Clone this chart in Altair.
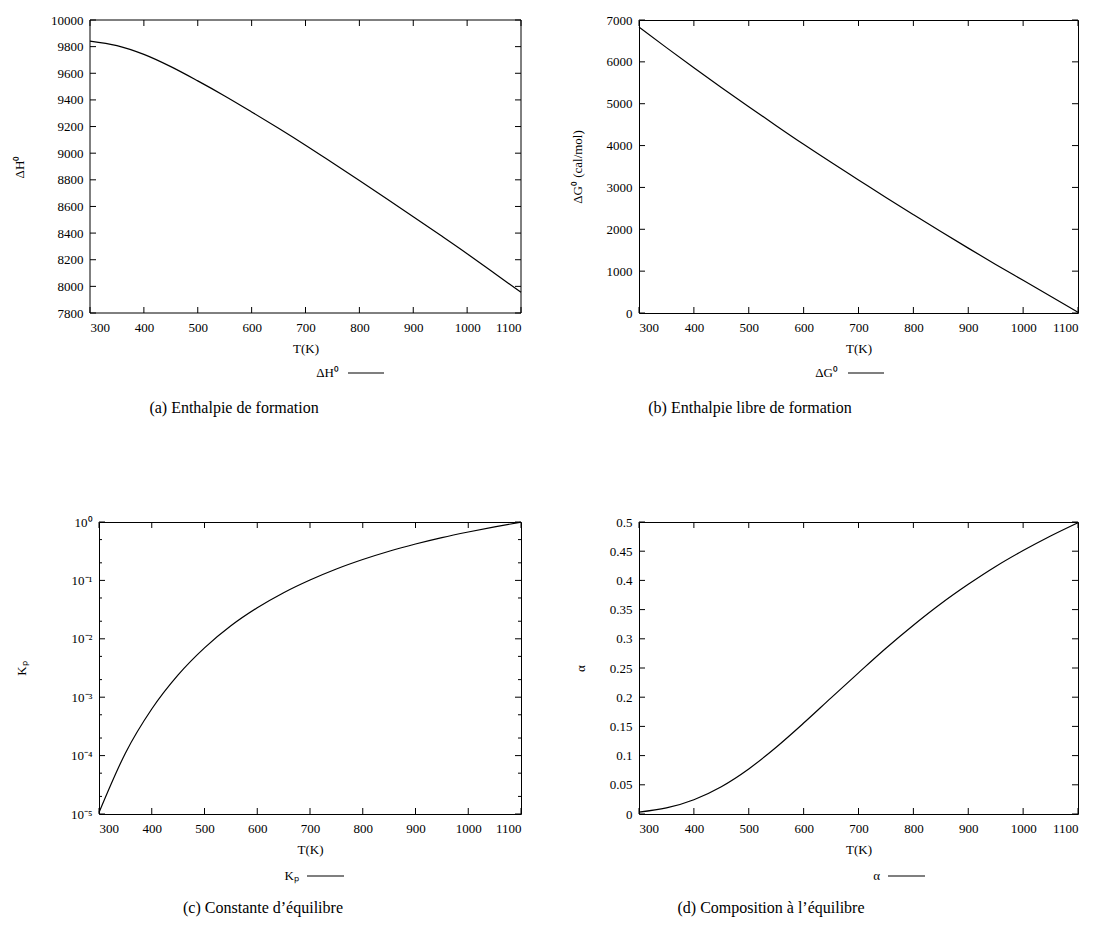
import altair as alt
import pandas as pd

# ---------------- data ----------------
T = [300, 350, 400, 450, 500, 550, 600, 650, 700, 750, 800, 850, 900, 950, 1000, 1050, 1100]
dH = [9842, 9808, 9742, 9650, 9543, 9430, 9310, 9187, 9060, 8928, 8795, 8660, 8523, 8385, 8245, 8100, 7955]
dG = [6830, 6340, 5860, 5390, 4930, 4475, 4030, 3600, 3180, 2760, 2350, 1945, 1550, 1160, 780, 400, 20]
Kp = [1.06e-5, 1.10e-4, 6.28e-4, 2.41e-3, 7.00e-3, 1.67e-2, 3.40e-2, 6.16e-2, 0.1016, 0.157,
      0.228, 0.316, 0.420, 0.541, 0.675, 0.826, 0.991]
alpha = [0.00325, 0.0104, 0.0245, 0.0468, 0.0772, 0.1144, 0.1557, 0.1989, 0.2417, 0.2838,
         0.3232, 0.3599, 0.3932, 0.4238, 0.4511, 0.4761, 0.4989]

x_ticks = [300, 400, 500, 600, 700, 800, 900, 1000, 1100]
yticks_a = [7800, 8000, 8200, 8400, 8600, 8800, 9000, 9200, 9400, 9600, 9800, 10000]
yticks_b = [0, 1000, 2000, 3000, 4000, 5000, 6000, 7000]
yticks_c = [1e-5, 1e-4, 1e-3, 1e-2, 1e-1, 1]
ylabels_c = ["10⁻⁵", "10⁻⁴", "10⁻³", "10⁻²", "10⁻¹", "10⁰"]
yminor_c = [2e-5, 5e-5, 2e-4, 5e-4, 2e-3, 5e-3, 2e-2, 5e-2, 2e-1, 5e-1]
yticks_d = [0, 0.05, 0.1, 0.15, 0.2, 0.25, 0.3, 0.35, 0.4, 0.45, 0.5]

FONT = "Liberation Serif"
CAP_FONT = "Liberation Serif"

df = pd.DataFrame({"T": T, "dH": dH, "dG": dG, "Kp": Kp, "alpha": alpha})


def one_row():
    return alt.Data(values=[{"k": 0}])


def panel(field, W, H, ydom, yticks, ytitle, ytitle_x, legend_txt, leg, caption, cap,
          left_ext, ytype="linear", yfmt=None, ylabel_expr=None, yminor=None, x0=0):
    xs = alt.Scale(domain=[300, 1100], nice=False, zero=False, range=[x0, W])
    ys = alt.Scale(domain=ydom, nice=False, zero=False, type=ytype)
    yaxis_kw = dict(values=yticks, title=ytitle, ticks=False, domain=False, grid=False,
                    labelPadding=7, titleX=ytitle_x, titleAlign="center", tickCount=60,
                    titleBaseline="middle", titleAngle=-90, labelOverlap=False)
    if x0:
        yaxis_kw["offset"] = -x0
    if yfmt:
        yaxis_kw["format"] = yfmt
    if ylabel_expr:
        yaxis_kw["labelExpr"] = ylabel_expr
    xaxis = alt.Axis(values=x_ticks, title="T(K)", ticks=False, domain=False,
                     grid=False, labelPadding=8, titleY=35, titleBaseline="middle",
                     tickCount=60, format="d")
    yaxis = alt.Axis(**yaxis_kw)
    X = lambda: alt.X("T:Q", scale=xs, axis=xaxis)
    Y = lambda: alt.Y(f"{field}:Q", scale=ys, axis=yaxis)

    line = alt.Chart(df).mark_line(color="black", strokeWidth=1.2,
                                   interpolate="monotone").encode(x=X(), y=Y())
    xdat = pd.DataFrame({"T": x_ticks})
    ydat = pd.DataFrame({field: yticks})
    tl = 6
    layers = [line]
    base_x = alt.Chart(xdat).mark_rule(color="black", strokeWidth=1)
    layers.append(base_x.encode(x=X(), y=alt.value(H), y2=alt.value(H - tl)))
    layers.append(base_x.encode(x=X(), y=alt.value(0), y2=alt.value(tl)))
    base_y = alt.Chart(ydat).mark_rule(color="black", strokeWidth=1)
    layers.append(base_y.encode(y=Y(), x=alt.value(x0), x2=alt.value(x0 + tl)))
    layers.append(base_y.encode(y=Y(), x=alt.value(W - tl), x2=alt.value(W)))
    if yminor:
        mdat = pd.DataFrame({field: yminor})
        base_m = alt.Chart(mdat).mark_rule(color="black", strokeWidth=1)
        layers.append(base_m.encode(y=Y(), x=alt.value(x0), x2=alt.value(x0 + 3)))
        layers.append(base_m.encode(y=Y(), x=alt.value(W - 3), x2=alt.value(W)))
    if x0:
        # frame drawn explicitly when the plot extends left of the group origin
        fr = alt.Chart(one_row()).mark_rule(color="black", strokeWidth=1)
        layers.append(fr.encode(x=alt.value(x0), x2=alt.value(W), y=alt.value(0)))
        layers.append(fr.encode(x=alt.value(x0), x2=alt.value(W), y=alt.value(H)))
        layers.append(fr.encode(x=alt.value(x0), y=alt.value(0), y2=alt.value(H)))
        layers.append(fr.encode(x=alt.value(W), y=alt.value(0), y2=alt.value(H)))
    # legend key
    layers.append(alt.Chart(one_row()).mark_text(font=FONT, fontSize=13, align="right",
                                                 baseline="middle", color="black").encode(
        x=alt.value(leg[0]), y=alt.value(leg[3]), text=alt.value(legend_txt)))
    layers.append(alt.Chart(one_row()).mark_rule(color="black", strokeWidth=1.2).encode(
        x=alt.value(leg[1]), x2=alt.value(leg[2]), y=alt.value(leg[3])))
    # caption
    layers.append(alt.Chart(one_row()).mark_text(font=CAP_FONT, fontSize=16, align="center",
                                                 baseline="middle", color="black").encode(
        x=alt.value(cap[0]), y=alt.value(cap[1]), text=alt.value(caption)))
    # invisible spacer fixing the left extent of the panel
    layers.append(alt.Chart(one_row()).mark_rule(strokeOpacity=0, strokeWidth=0.1).encode(
        x=alt.value(-left_ext), y=alt.value(H / 2), y2=alt.value(H / 2 + 1)))
    ch = alt.layer(*layers).properties(width=W, height=H)
    if x0:
        ch = ch.properties(view=alt.ViewBackground(stroke="transparent"))
    return ch


expr_c = ""
for v, lab in zip(yticks_c, ylabels_c):
    expr_c += f"datum.value < {v * 3} ? '{lab}' : "
expr_c += "''"

pa = panel("dH", 422, 293, [7800, 10000], yticks_a, "ΔH⁰", -71, "ΔH⁰",
           (240, 249, 285, 353), "(a) Enthalpie de formation", (135, 388), 90, yfmt="d",
           x0=-9)
pb = panel("dG", 439, 293, [0, 7000], yticks_b, "ΔG⁰ (cal/mol)", -62, "ΔG⁰",
           (199, 209, 245, 353), "(b) Enthalpie libre de formation", (111, 388), 75, yfmt="d")
pc = panel("Kp", 422, 292, [1e-5, 1], yticks_c, "Kₚ", -78, "Kₚ",
           (200, 208, 245, 354), "(c) Constante d’équilibre", (164, 386), 96,
           ytype="log", ylabel_expr=expr_c, yminor=yminor_c)
pd_ = panel("alpha", 439, 292, [0, 0.5], yticks_d, "α", -59, "α",
            (241, 249, 286, 354), "(d) Composition à l’équilibre", (132, 386), 75,
            yfmt="~g")

chart = alt.concat(
    pa, pb, pc, pd_,
    columns=2,
    spacing={"row": 98, "column": 32},
    align="none",
).properties(
    padding={"left": 2, "top": 13, "right": 5, "bottom": 5},
    background="white",
).configure_view(
    stroke="black", strokeWidth=1
).configure_axis(
    labelFont=FONT, labelFontSize=13, labelColor="black",
    titleFont=FONT, titleFontSize=13, titleFontWeight="normal", titleColor="black",
)

chart.save("out.html", embed_options={"renderer": "svg", "actions": False})
